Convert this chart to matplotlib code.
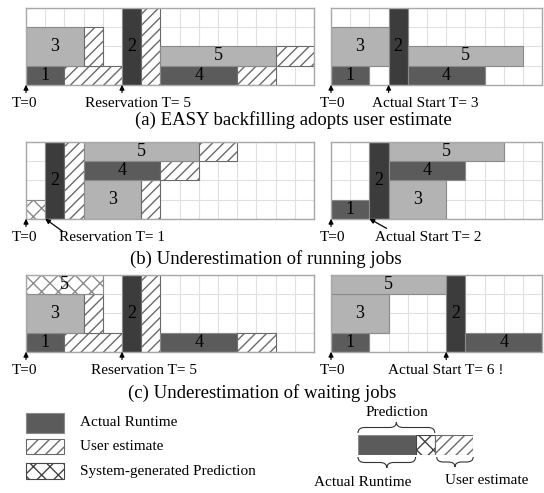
import matplotlib
matplotlib.use('Agg')
import matplotlib.pyplot as plt
from matplotlib.path import Path
from matplotlib.patches import PathPatch, Rectangle

plt.rcParams['font.family'] = ['Liberation Serif', 'DejaVu Serif']
plt.rcParams['hatch.linewidth'] = 1.0

# Jobs shared by all three scenarios
JOB_IDS = ['1', '2', '3', '4', '5']
RUNTIME = [2, 1, 3, 4, 6]          # actual runtime (cells)
ESTIMATE = [5, 2, 4, 6, 8]         # user estimate (cells)
HEIGHT = [1, 4, 2, 1, 1]           # processors (rows)
SHADE = ['#5b5b5b', '#3c3c3c', '#b3b3b3', '#5b5b5b', '#b3b3b3']

# (a) EASY backfilling adopts user estimate
ROWS_A = [0, 0, 1, 0, 1]
START_A_PLAN = [0, 5, 0, 7, 7]
START_A_REAL = [0, 3, 0, 4, 4]
PRED_A = [None, None, None, None, None]

# (b) Underestimation of running jobs
ROWS_B = [0, 0, 0, 2, 3]
START_B_PLAN = [0, 1, 3, 3, 3]
START_B_REAL = [0, 2, 3, 3, 3]
PRED_B = [1, None, None, None, None]

# (c) Underestimation of waiting jobs
ROWS_C = [0, 0, 1, 0, 3]
START_C_PLAN = [0, 5, 0, 7, 0]
START_C_REAL = [0, 6, 0, 7, 0]
PRED_C = [None, None, None, None, 4]

RESERVATION = [5, 1, 5]
ACTUAL_START = [3, 2, 6]
CAPTIONS = ['(a) EASY backfilling adopts user estimate',
            '(b) Underestimation of running jobs',
            '(c) Underestimation of waiting jobs']

# legend diagram: actual runtime / prediction / user estimate
DIAG_RUNTIME = 3
DIAG_PRED = 4
DIAG_EST = 6

W, H = 544, 493
CELL = 19.2
EST_HATCH = '///'
PRED_HATCH = 'xx'
fig = plt.figure(figsize=(W / 100, H / 100), dpi=100)


def px_axes(x, top, w, h):
    return fig.add_axes([x / W, 1 - (top + h) / H, w / W, h / H])


def grid_panel(x, top, ncols):
    ax = px_axes(x, top, ncols * CELL, 4 * CELL)
    ax.set_xlim(0, ncols)
    ax.set_ylim(0, 4)
    ax.set_xticks(range(ncols + 1))
    ax.set_yticks(range(5))
    ax.grid(True, color='#e0e0e0', lw=0.8)
    ax.set_axisbelow(True)
    ax.tick_params(length=0, labelbottom=False, labelleft=False)
    for sp in ax.spines.values():
        sp.set_color('#a8a8a8')
        sp.set_linewidth(1.0)
    return ax


def draw_plan(ax, rows, starts, preds, hide=()):
    for i, job in enumerate(JOB_IDS):
        r, h, s = rows[i], HEIGHT[i], starts[i]
        if preds[i] is not None:
            ax.barh(r, preds[i], left=s, height=h, align='edge',
                    color='white', edgecolor='#8a8a8a', hatch=PRED_HATCH,
                    lw=0.8)
            if job not in hide:
                ax.text(s + preds[i] / 2, r + h / 2, job, ha='center',
                        va='center', fontsize=13)
            continue
        ax.barh(r, RUNTIME[i], left=s, height=h, align='edge',
                color=SHADE[i], edgecolor='#8a8a8a', lw=0.8)
        ax.barh(r, ESTIMATE[i] - RUNTIME[i], left=s + RUNTIME[i], height=h,
                align='edge', color='white', edgecolor='#6a6a6a',
                hatch=EST_HATCH, lw=0.8)
        ax.text(s + RUNTIME[i] / 2, r + h / 2, job, ha='center',
                va='center', fontsize=13)


def draw_real(ax, rows, starts):
    for i, job in enumerate(JOB_IDS):
        r, h, s = rows[i], HEIGHT[i], starts[i]
        ax.barh(r, RUNTIME[i], left=s, height=h, align='edge',
                color=SHADE[i], edgecolor='#8a8a8a', lw=0.8)
        ax.text(s + RUNTIME[i] / 2, r + h / 2, job, ha='center',
                va='center', fontsize=13)


def arrow(ax, t, x_from, y_from):
    ax.annotate('', xy=(t, 0), xytext=(x_from, y_from),
                arrowprops=dict(arrowstyle='-|>', color='black', lw=0.9,
                                shrinkA=0, shrinkB=0, mutation_scale=7),
                annotation_clip=False)


def label(ax, x, s, y=-0.95):
    ax.text(x, y, s, ha='center', va='center', fontsize=11, clip_on=False)


TOPS = [8, 142, 275]
scen = [
    (ROWS_A, START_A_PLAN, START_A_REAL, PRED_A),
    (ROWS_B, START_B_PLAN, START_B_REAL, PRED_B),
    (ROWS_C, START_C_PLAN, START_C_REAL, PRED_C),
]
plan_label_x = [5.85, 4.5, 6.15]
real_label_x = [4.9, 5.05, 5.95]
real_suffix = ['', '', ' !']
cap_x = [293, 266, 262]
cap_y = [120, 259, 393]

for k, (rows, sp, sr, preds) in enumerate(scen):
    axl = grid_panel(26, TOPS[k], 15)
    draw_plan(axl, rows, sp, preds, hide=('1',) if k == 1 else ())
    axr = grid_panel(331, TOPS[k], 11)
    draw_real(axr, rows, sr)

    arrow(axl, 0, 0, -0.4)
    arrow(axr, 0, 0, -0.4)
    label(axl, -0.1, 'T=0')
    label(axr, 0.1, 'T=0')
    label(axl, plan_label_x[k], f'Reservation T= {RESERVATION[k]}')
    label(axr, real_label_x[k],
          f'Actual Start T= {ACTUAL_START[k]}{real_suffix[k]}')
    if k == 1:
        arrow(axl, RESERVATION[k], 1.9, -0.65)
        arrow(axr, ACTUAL_START[k], 2.9, -0.5)
    else:
        arrow(axl, RESERVATION[k], RESERVATION[k], -0.4)
        arrow(axr, ACTUAL_START[k], ACTUAL_START[k], -0.4)

    fig.text(cap_x[k] / W, 1 - cap_y[k] / H, CAPTIONS[k], ha='center',
             va='center', fontsize=13.5)

# legend swatches (left)
leg = fig.add_axes([0, 0, 1, 1])
leg.set_xlim(0, W)
leg.set_ylim(H, 0)
leg.axis('off')
leg.add_patch(Rectangle((26, 413), 38, 20, facecolor='#5b5b5b',
                        edgecolor='#8a8a8a', lw=0.8))
leg.add_patch(Rectangle((26, 439), 38, 15, facecolor='white',
                        edgecolor='#6a6a6a', hatch=EST_HATCH, lw=0.8))
leg.add_patch(Rectangle((26, 463), 38, 16, facecolor='white',
                        edgecolor='#444444', hatch=PRED_HATCH, lw=0.8))
leg.text(80, 423, 'Actual Runtime', ha='left', va='center', fontsize=11)
leg.text(80, 446, 'User estimate', ha='left', va='center', fontsize=11)
leg.text(80, 471, 'System-generated Prediction', ha='left', va='center',
         fontsize=11)

# legend diagram (right)
dg = px_axes(358, 435, DIAG_EST * CELL, 20)
dg.set_xlim(0, DIAG_EST)
dg.set_ylim(0, 1)
dg.axis('off')
dg.barh(0, DIAG_RUNTIME, left=0, height=1, align='edge', color='#5b5b5b',
        edgecolor='#8a8a8a', lw=0.8)
dg.barh(0, DIAG_PRED - DIAG_RUNTIME, left=DIAG_RUNTIME, height=1,
        align='edge', color='white', edgecolor='#444444', hatch=PRED_HATCH,
        lw=0.8)
dg.barh(0, DIAG_EST - DIAG_PRED, left=DIAG_PRED, height=1, align='edge',
        color='white', edgecolor='#6a6a6a', hatch=EST_HATCH, lw=0.8)


def brace(ax, x0, x1, y, h):
    # h > 0: tip points up, h < 0: tip points down
    mid = (x0 + x1) / 2
    r = min(0.35, (x1 - x0) / 4)
    ym = y + h / 2
    verts = [(x0, y), (x0, ym), (x0 + r, ym), (mid - r, ym), (mid, ym),
             (mid, y + h), (mid, ym), (mid + r, ym), (x1 - r, ym),
             (x1, ym), (x1, y)]
    codes = [Path.MOVETO, Path.CURVE3, Path.CURVE3, Path.LINETO,
             Path.CURVE3, Path.CURVE3, Path.CURVE3, Path.CURVE3,
             Path.LINETO, Path.CURVE3, Path.CURVE3]
    ax.add_patch(PathPatch(Path(verts, codes), facecolor='none',
                           edgecolor='#333333', lw=0.8, clip_on=False))


brace(dg, 0, DIAG_PRED, 1.1, 0.55)
brace(dg, 0, DIAG_RUNTIME, -0.1, -0.55)
brace(dg, DIAG_PRED + 0.1, DIAG_EST, -0.1, -0.5)
dg.text(2.05, 2.15, 'Prediction', ha='center', va='center', fontsize=11,
        clip_on=False)
dg.text(0.25, -1.4, 'Actual Runtime', ha='center', va='center', fontsize=11,
        clip_on=False)
dg.text(6.7, -1.3, 'User estimate', ha='center', va='center', fontsize=11,
        clip_on=False)

fig.savefig('out.png', dpi=100, facecolor='white')
